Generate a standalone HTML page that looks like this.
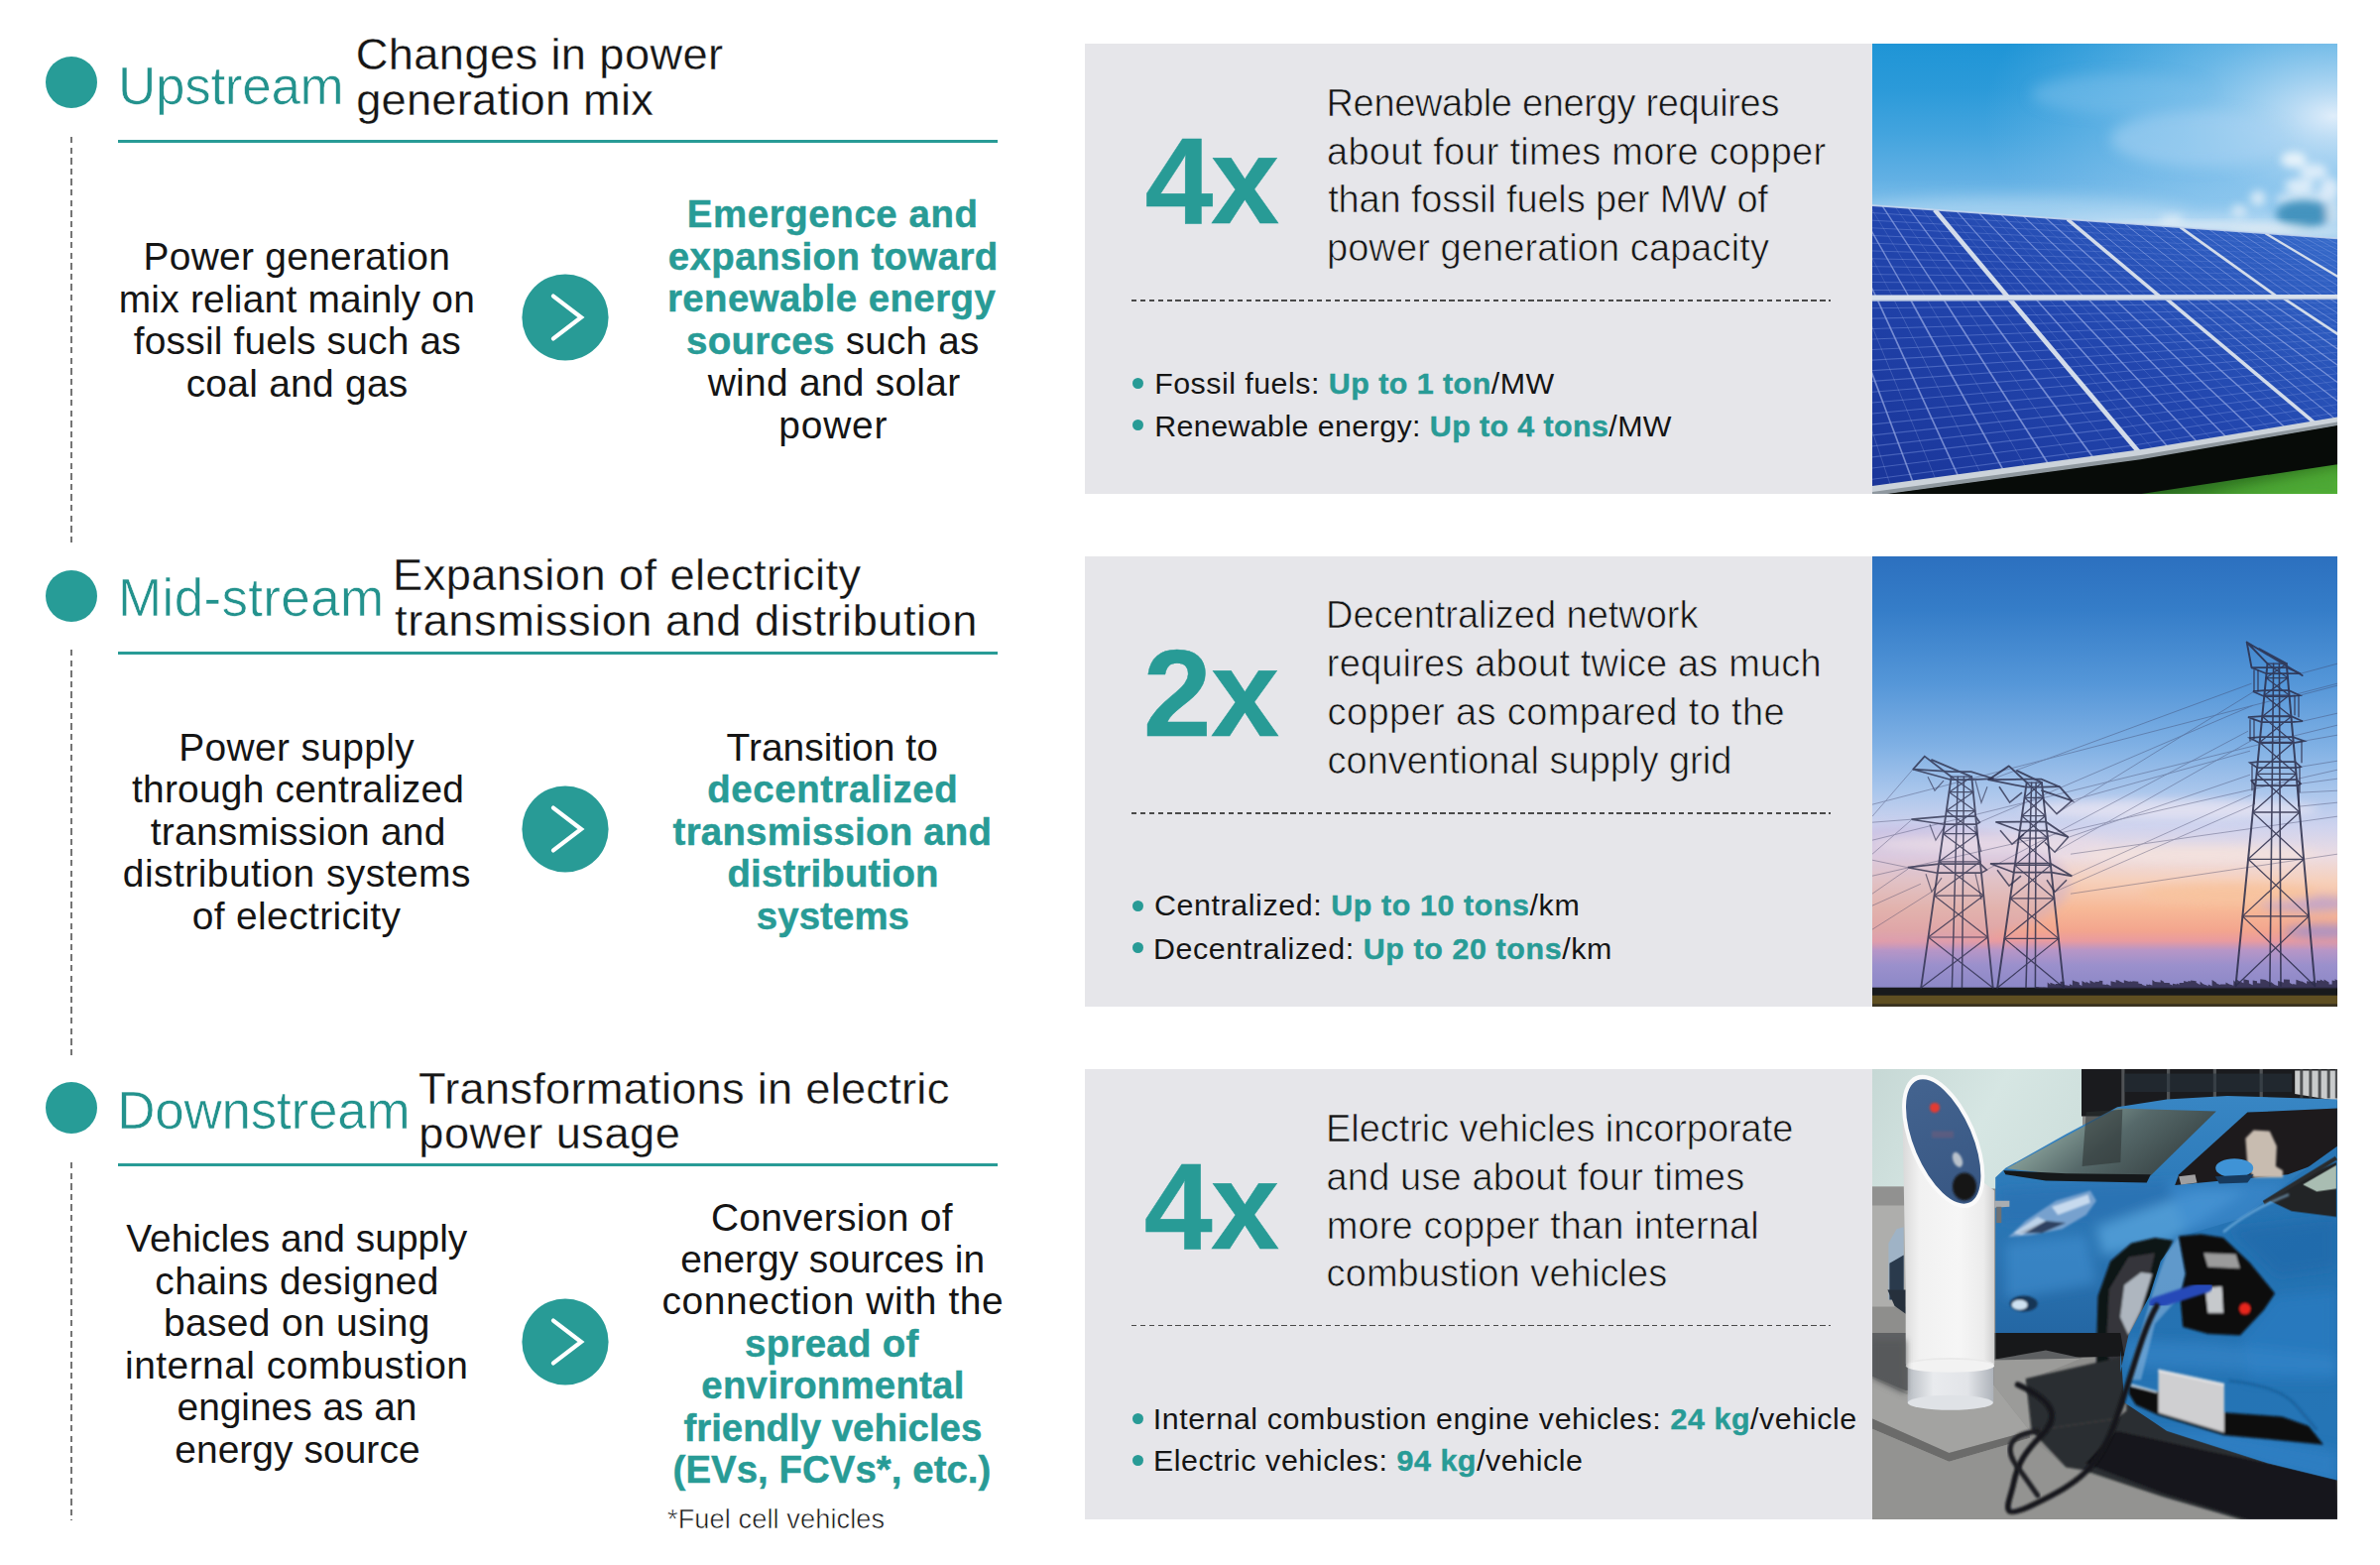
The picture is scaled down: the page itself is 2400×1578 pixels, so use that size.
<!DOCTYPE html>
<html lang="en"><head><meta charset="utf-8"><title>Copper demand across the electricity value chain</title>
<style>
html,body{margin:0;padding:0;background:#fff}
body{width:2400px;height:1578px;position:relative;overflow:hidden;font-family:"Liberation Sans",sans-serif;color:#151515}
.ln{position:absolute;white-space:pre;margin:0}
.ln b{color:#289b96;font-weight:bold;-webkit-text-stroke:0.45px #289b96}
.ln .t{color:#289b96}
.ln .l{color:#141414;-webkit-text-stroke:0.65px #e6e6ea}
.g-h2{-webkit-text-stroke:0.3px #fff}
.g-fn .l{-webkit-text-stroke:0.55px #fff}
.g-h1 .t{color:#23928d;-webkit-text-stroke:0.6px #fff}
.dot{position:absolute;left:46.3px;width:52px;height:52px;border-radius:50%;background:#279c97}
.rule{position:absolute;left:119px;width:887px;height:3px;background:#289b96}
.vdash{position:absolute;left:71.2px;width:1.8px;background:repeating-linear-gradient(to bottom,#757575 0,#757575 6.4px,transparent 6.4px,transparent 10.6px)}
.arrow{position:absolute;left:525.7px}
.panel{position:absolute;left:1094.2px;width:794px;background:#e6e6ea}
.hdash{position:absolute;left:1141px;width:705px;height:1.6px;background:repeating-linear-gradient(to right,#4a4a4a 0,#4a4a4a 5.4px,transparent 5.4px,transparent 8.9px)}
.bdot{position:absolute;left:1142.2px;width:11.2px;height:11.2px;border-radius:50%;background:#289b96}
.photo{position:absolute;left:1888px;width:469.3px;overflow:hidden;background:#5a8fc8}
.photo svg{display:block;width:100%;height:100%}
</style></head>
<body>
<div class="dot" style="top:57.4px"></div>
<div class="rule" style="top:140.5px"></div>
<div class="vdash" style="top:138.1px;height:410.9px"></div>
<svg class="arrow" style="top:276.0px" width="88" height="88" viewBox="0 0 88 88"><circle cx="44" cy="44" r="43.6" fill="#289b96"/><polyline points="32,22.6 60,44 32,65.4" fill="none" stroke="#fff" stroke-width="4.3" stroke-linecap="round" stroke-linejoin="miter"/></svg>
<div class="dot" style="top:574.5px"></div>
<div class="rule" style="top:657.3px"></div>
<div class="vdash" style="top:655.3px;height:411.2px"></div>
<svg class="arrow" style="top:791.7px" width="88" height="88" viewBox="0 0 88 88"><circle cx="44" cy="44" r="43.6" fill="#289b96"/><polyline points="32,22.6 60,44 32,65.4" fill="none" stroke="#fff" stroke-width="4.3" stroke-linecap="round" stroke-linejoin="miter"/></svg>
<div class="dot" style="top:1091.1px"></div>
<div class="rule" style="top:1173.2px"></div>
<div class="vdash" style="top:1171.9px;height:361.6px"></div>
<svg class="arrow" style="top:1308.6px" width="88" height="88" viewBox="0 0 88 88"><circle cx="44" cy="44" r="43.6" fill="#289b96"/><polyline points="32,22.6 60,44 32,65.4" fill="none" stroke="#fff" stroke-width="4.3" stroke-linecap="round" stroke-linejoin="miter"/></svg>
<div class="panel" style="top:44.0px;height:454.2px"></div>
<div class="hdash" style="top:302.3px"></div>
<div class="bdot" style="top:381.0px"></div>
<div class="bdot" style="top:423.2px"></div>
<div class="photo" style="top:44.0px;height:454.2px"><svg width="469.3" height="454.2" viewBox="0 -1 469.3 454.2" preserveAspectRatio="none">
<defs>
<linearGradient id="p1sky" x1="0" y1="0" x2="0" y2="1"><stop offset="0" stop-color="#1f95d6"/><stop offset="0.1" stop-color="#2b9ad9"/><stop offset="0.2" stop-color="#43a4de"/><stop offset="0.3" stop-color="#62b0e4"/><stop offset="0.37" stop-color="#86c2eb"/><stop offset="0.43" stop-color="#a8d3f1"/><stop offset="1" stop-color="#a8d3f1"/></linearGradient>
<radialGradient id="p1sun" cx="0.99" cy="0.28" r="0.75"><stop offset="0" stop-color="#e3effb" stop-opacity="0.98"/><stop offset="0.12" stop-color="#cfe5f8" stop-opacity="0.85"/><stop offset="0.45" stop-color="#9fd0f2" stop-opacity="0.55"/><stop offset="1" stop-color="#8cc6ee" stop-opacity="0"/></radialGradient>
<linearGradient id="p1pan" x1="0" y1="1" x2="1" y2="0"><stop offset="0" stop-color="#1a3599"/><stop offset="0.5" stop-color="#2246ae"/><stop offset="0.85" stop-color="#2f5fc2"/><stop offset="1" stop-color="#3a72cf"/></linearGradient>
<linearGradient id="p1grass" x1="0" y1="0" x2="1" y2="0.6"><stop offset="0" stop-color="#0a1507"/><stop offset="0.4" stop-color="#225f1b"/><stop offset="1" stop-color="#55b336"/></linearGradient>
<filter id="p1b" x="-20%" y="-20%" width="140%" height="140%"><feGaussianBlur stdDeviation="7"/></filter>
<filter id="p1b2" x="-30%" y="-30%" width="160%" height="160%"><feGaussianBlur stdDeviation="4"/></filter>
<filter id="p1b3"><feGaussianBlur stdDeviation="0.6"/></filter>
</defs>
<rect x="0" y="-1" width="470" height="456" fill="url(#p1sky)"/>
<rect x="0" y="-1" width="470" height="261" fill="url(#p1sun)"/>
<g filter="url(#p1b)"><ellipse cx="330" cy="95" rx="90" ry="28" fill="#a9d4f3" opacity="0.55"/><ellipse cx="250" cy="50" rx="90" ry="20" fill="#7cc0ec" opacity="0.5"/><ellipse cx="150" cy="168" rx="170" ry="14" fill="#b5d9f3" opacity="0.55"/><ellipse cx="330" cy="182" rx="150" ry="12" fill="#c9e3f6" opacity="0.6"/></g>
<g filter="url(#p1b2)"><ellipse cx="425" cy="116" rx="13" ry="8" fill="#f0f7fc" opacity="0.9"/><ellipse cx="445" cy="128" rx="14" ry="8" fill="#e8f2fb" opacity="0.85"/><ellipse cx="431" cy="142" rx="15" ry="7" fill="#eaf3fb" opacity="0.85"/><ellipse cx="461" cy="146" rx="10" ry="12" fill="#e6f0fa" opacity="0.85"/><ellipse cx="436" cy="156" rx="30" ry="8" fill="#dcebf7" opacity="0.8"/><ellipse cx="389" cy="155" rx="8" ry="8" fill="#e2eef8" opacity="0.85"/><ellipse cx="370" cy="168" rx="8" ry="7" fill="#dcebf6" opacity="0.8"/><ellipse cx="302" cy="177" rx="12" ry="5" fill="#e0edf7" opacity="0.8"/></g>
<g filter="url(#p1b2)"><ellipse cx="435" cy="171" rx="28" ry="14" fill="#3f8fba" opacity="0.95"/><ellipse cx="464" cy="168" rx="7" ry="14" fill="#d6e6f3" opacity="0.8"/></g>
<g filter="url(#p1b2)"><ellipse cx="330" cy="183" rx="110" ry="3.5" fill="#e4edf3" opacity="0.85"/><ellipse cx="420" cy="189" rx="60" ry="3" fill="#e6eef2" opacity="0.8"/></g>
<polygon points="0,449.4 270.6,412.8 469,379.2 470,454 0,454" fill="#070b08"/>
<polygon points="265,454 470,423 470,454" fill="url(#p1grass)"/>
<g filter="url(#p1b2)"><polygon points="340,454 470,432 470,454" fill="#4aa532" opacity="0.8"/></g>
<polygon points="0.0,162.2 469.0,195.3 469.0,379.2 270.6,412.8 0.0,449.4" fill="url(#p1pan)"/>
<clipPath id="p1clip"><polygon points="0.0,162.2 469.0,195.3 469.0,379.2 270.6,412.8 0.0,449.4"/></clipPath>
<g clip-path="url(#p1clip)" fill="none">
<line x1="-81.8" y1="156.4" x2="-45.4" y2="255.7" stroke="#a9b9ee" stroke-width="0.70" opacity="0.27"/>
<line x1="-68.7" y1="157.4" x2="-28.8" y2="255.7" stroke="#a9b9ee" stroke-width="1.40" opacity="0.60"/>
<line x1="-55.5" y1="158.3" x2="-12.1" y2="255.6" stroke="#a9b9ee" stroke-width="0.70" opacity="0.27"/>
<line x1="-42.4" y1="159.2" x2="4.5" y2="255.6" stroke="#a9b9ee" stroke-width="1.40" opacity="0.60"/>
<line x1="-29.2" y1="160.1" x2="21.1" y2="255.6" stroke="#a9b9ee" stroke-width="0.70" opacity="0.27"/>
<line x1="-16.0" y1="161.1" x2="37.7" y2="255.5" stroke="#a9b9ee" stroke-width="1.40" opacity="0.60"/>
<line x1="-2.9" y1="162.0" x2="54.3" y2="255.5" stroke="#a9b9ee" stroke-width="0.70" opacity="0.27"/>
<line x1="10.3" y1="162.9" x2="70.9" y2="255.4" stroke="#a9b9ee" stroke-width="1.40" opacity="0.60"/>
<line x1="23.4" y1="163.9" x2="87.6" y2="255.4" stroke="#a9b9ee" stroke-width="0.70" opacity="0.27"/>
<line x1="36.6" y1="164.8" x2="104.2" y2="255.4" stroke="#a9b9ee" stroke-width="1.40" opacity="0.60"/>
<line x1="49.7" y1="165.7" x2="120.8" y2="255.3" stroke="#a9b9ee" stroke-width="0.70" opacity="0.27"/>
<line x1="-92.2" y1="163.8" x2="69.1" y2="174.0" stroke="#8fa6ea" stroke-width="0.90" opacity="0.38"/>
<line x1="-89.5" y1="172.2" x2="75.3" y2="181.4" stroke="#8fa6ea" stroke-width="0.90" opacity="0.38"/>
<line x1="-86.8" y1="180.6" x2="81.5" y2="188.8" stroke="#8fa6ea" stroke-width="0.90" opacity="0.38"/>
<line x1="-84.0" y1="188.9" x2="87.7" y2="196.2" stroke="#8fa6ea" stroke-width="0.90" opacity="0.38"/>
<line x1="-81.2" y1="197.3" x2="93.9" y2="203.6" stroke="#8fa6ea" stroke-width="0.90" opacity="0.38"/>
<line x1="-78.5" y1="205.6" x2="100.2" y2="211.0" stroke="#8fa6ea" stroke-width="0.90" opacity="0.38"/>
<line x1="-75.8" y1="214.0" x2="106.4" y2="218.3" stroke="#8fa6ea" stroke-width="0.90" opacity="0.38"/>
<line x1="-73.0" y1="222.3" x2="112.6" y2="225.7" stroke="#8fa6ea" stroke-width="0.90" opacity="0.38"/>
<line x1="-70.2" y1="230.7" x2="118.8" y2="233.1" stroke="#8fa6ea" stroke-width="0.90" opacity="0.38"/>
<line x1="-67.5" y1="239.0" x2="125.0" y2="240.5" stroke="#8fa6ea" stroke-width="0.90" opacity="0.38"/>
<line x1="-64.8" y1="247.4" x2="131.2" y2="247.9" stroke="#8fa6ea" stroke-width="0.90" opacity="0.38"/>
<line x1="74.1" y1="167.4" x2="150.2" y2="255.3" stroke="#a9b9ee" stroke-width="0.58" opacity="0.27"/>
<line x1="85.2" y1="168.2" x2="163.0" y2="255.2" stroke="#a9b9ee" stroke-width="1.16" opacity="0.60"/>
<line x1="96.4" y1="169.0" x2="175.8" y2="255.2" stroke="#a9b9ee" stroke-width="0.58" opacity="0.27"/>
<line x1="107.6" y1="169.8" x2="188.6" y2="255.2" stroke="#a9b9ee" stroke-width="1.16" opacity="0.60"/>
<line x1="118.7" y1="170.6" x2="201.4" y2="255.1" stroke="#a9b9ee" stroke-width="0.58" opacity="0.27"/>
<line x1="129.9" y1="171.4" x2="214.2" y2="255.1" stroke="#a9b9ee" stroke-width="1.16" opacity="0.60"/>
<line x1="141.1" y1="172.2" x2="227.0" y2="255.1" stroke="#a9b9ee" stroke-width="0.58" opacity="0.27"/>
<line x1="152.2" y1="172.9" x2="239.8" y2="255.0" stroke="#a9b9ee" stroke-width="1.16" opacity="0.60"/>
<line x1="163.4" y1="173.7" x2="252.6" y2="255.0" stroke="#a9b9ee" stroke-width="0.58" opacity="0.27"/>
<line x1="174.6" y1="174.5" x2="265.4" y2="255.0" stroke="#a9b9ee" stroke-width="1.16" opacity="0.60"/>
<line x1="185.7" y1="175.3" x2="278.2" y2="255.0" stroke="#a9b9ee" stroke-width="0.58" opacity="0.27"/>
<line x1="69.1" y1="174.0" x2="204.7" y2="182.7" stroke="#8fa6ea" stroke-width="0.75" opacity="0.38"/>
<line x1="75.3" y1="181.4" x2="212.6" y2="189.2" stroke="#8fa6ea" stroke-width="0.75" opacity="0.38"/>
<line x1="81.5" y1="188.8" x2="220.4" y2="195.8" stroke="#8fa6ea" stroke-width="0.75" opacity="0.38"/>
<line x1="87.7" y1="196.2" x2="228.3" y2="202.4" stroke="#8fa6ea" stroke-width="0.75" opacity="0.38"/>
<line x1="93.9" y1="203.6" x2="236.1" y2="208.9" stroke="#8fa6ea" stroke-width="0.75" opacity="0.38"/>
<line x1="100.2" y1="211.0" x2="243.9" y2="215.5" stroke="#8fa6ea" stroke-width="0.75" opacity="0.38"/>
<line x1="106.4" y1="218.3" x2="251.8" y2="222.1" stroke="#8fa6ea" stroke-width="0.75" opacity="0.38"/>
<line x1="112.6" y1="225.7" x2="259.6" y2="228.7" stroke="#8fa6ea" stroke-width="0.75" opacity="0.38"/>
<line x1="118.8" y1="233.1" x2="267.5" y2="235.2" stroke="#8fa6ea" stroke-width="0.75" opacity="0.38"/>
<line x1="125.0" y1="240.5" x2="275.3" y2="241.8" stroke="#8fa6ea" stroke-width="0.75" opacity="0.38"/>
<line x1="131.2" y1="247.9" x2="283.2" y2="248.4" stroke="#8fa6ea" stroke-width="0.75" opacity="0.38"/>
<line x1="206.4" y1="176.8" x2="300.8" y2="254.9" stroke="#a9b9ee" stroke-width="0.46" opacity="0.27"/>
<line x1="215.9" y1="177.4" x2="310.7" y2="254.9" stroke="#a9b9ee" stroke-width="0.92" opacity="0.60"/>
<line x1="225.3" y1="178.1" x2="320.5" y2="254.9" stroke="#a9b9ee" stroke-width="0.46" opacity="0.27"/>
<line x1="234.8" y1="178.8" x2="330.3" y2="254.8" stroke="#a9b9ee" stroke-width="0.92" opacity="0.60"/>
<line x1="244.3" y1="179.4" x2="340.2" y2="254.8" stroke="#a9b9ee" stroke-width="0.46" opacity="0.27"/>
<line x1="253.8" y1="180.1" x2="350.0" y2="254.8" stroke="#a9b9ee" stroke-width="0.92" opacity="0.60"/>
<line x1="263.2" y1="180.8" x2="359.8" y2="254.8" stroke="#a9b9ee" stroke-width="0.46" opacity="0.27"/>
<line x1="272.7" y1="181.5" x2="369.7" y2="254.7" stroke="#a9b9ee" stroke-width="0.92" opacity="0.60"/>
<line x1="282.2" y1="182.1" x2="379.5" y2="254.7" stroke="#a9b9ee" stroke-width="0.46" opacity="0.27"/>
<line x1="291.7" y1="182.8" x2="389.3" y2="254.7" stroke="#a9b9ee" stroke-width="0.92" opacity="0.60"/>
<line x1="301.1" y1="183.5" x2="399.2" y2="254.7" stroke="#a9b9ee" stroke-width="0.46" opacity="0.27"/>
<line x1="204.7" y1="182.7" x2="318.8" y2="190.0" stroke="#8fa6ea" stroke-width="0.59" opacity="0.38"/>
<line x1="212.6" y1="189.2" x2="327.0" y2="195.9" stroke="#8fa6ea" stroke-width="0.59" opacity="0.38"/>
<line x1="220.4" y1="195.8" x2="335.2" y2="201.8" stroke="#8fa6ea" stroke-width="0.59" opacity="0.38"/>
<line x1="228.3" y1="202.4" x2="343.4" y2="207.6" stroke="#8fa6ea" stroke-width="0.59" opacity="0.38"/>
<line x1="236.1" y1="208.9" x2="351.6" y2="213.5" stroke="#8fa6ea" stroke-width="0.59" opacity="0.38"/>
<line x1="243.9" y1="215.5" x2="359.8" y2="219.4" stroke="#8fa6ea" stroke-width="0.59" opacity="0.38"/>
<line x1="251.8" y1="222.1" x2="368.0" y2="225.3" stroke="#8fa6ea" stroke-width="0.59" opacity="0.38"/>
<line x1="259.6" y1="228.7" x2="376.2" y2="231.1" stroke="#8fa6ea" stroke-width="0.59" opacity="0.38"/>
<line x1="267.5" y1="235.2" x2="384.4" y2="237.0" stroke="#8fa6ea" stroke-width="0.59" opacity="0.38"/>
<line x1="275.3" y1="241.8" x2="392.6" y2="242.9" stroke="#8fa6ea" stroke-width="0.59" opacity="0.38"/>
<line x1="283.2" y1="248.4" x2="400.8" y2="248.8" stroke="#8fa6ea" stroke-width="0.59" opacity="0.38"/>
<line x1="317.8" y1="184.6" x2="416.9" y2="254.6" stroke="#a9b9ee" stroke-width="0.34" opacity="0.27"/>
<line x1="324.9" y1="185.1" x2="424.8" y2="254.6" stroke="#a9b9ee" stroke-width="0.69" opacity="0.60"/>
<line x1="332.1" y1="185.6" x2="432.7" y2="254.6" stroke="#a9b9ee" stroke-width="0.34" opacity="0.27"/>
<line x1="339.2" y1="186.1" x2="440.6" y2="254.6" stroke="#a9b9ee" stroke-width="0.69" opacity="0.60"/>
<line x1="346.4" y1="186.7" x2="448.5" y2="254.6" stroke="#a9b9ee" stroke-width="0.34" opacity="0.27"/>
<line x1="353.5" y1="187.2" x2="456.4" y2="254.6" stroke="#a9b9ee" stroke-width="0.69" opacity="0.60"/>
<line x1="360.6" y1="187.7" x2="464.2" y2="254.5" stroke="#a9b9ee" stroke-width="0.34" opacity="0.27"/>
<line x1="367.8" y1="188.2" x2="472.1" y2="254.5" stroke="#a9b9ee" stroke-width="0.69" opacity="0.60"/>
<line x1="374.9" y1="188.7" x2="480.0" y2="254.5" stroke="#a9b9ee" stroke-width="0.34" opacity="0.27"/>
<line x1="382.1" y1="189.2" x2="487.9" y2="254.5" stroke="#a9b9ee" stroke-width="0.69" opacity="0.60"/>
<line x1="389.2" y1="189.7" x2="495.8" y2="254.5" stroke="#a9b9ee" stroke-width="0.34" opacity="0.27"/>
<line x1="318.8" y1="190.0" x2="405.3" y2="195.5" stroke="#8fa6ea" stroke-width="0.44" opacity="0.38"/>
<line x1="327.0" y1="195.9" x2="414.3" y2="200.9" stroke="#8fa6ea" stroke-width="0.44" opacity="0.38"/>
<line x1="335.2" y1="201.8" x2="423.2" y2="206.2" stroke="#8fa6ea" stroke-width="0.44" opacity="0.38"/>
<line x1="343.4" y1="207.6" x2="432.2" y2="211.6" stroke="#8fa6ea" stroke-width="0.44" opacity="0.38"/>
<line x1="351.6" y1="213.5" x2="441.1" y2="217.0" stroke="#8fa6ea" stroke-width="0.44" opacity="0.38"/>
<line x1="359.8" y1="219.4" x2="450.0" y2="222.3" stroke="#8fa6ea" stroke-width="0.44" opacity="0.38"/>
<line x1="368.0" y1="225.3" x2="459.0" y2="227.7" stroke="#8fa6ea" stroke-width="0.44" opacity="0.38"/>
<line x1="376.2" y1="231.1" x2="467.9" y2="233.0" stroke="#8fa6ea" stroke-width="0.44" opacity="0.38"/>
<line x1="384.4" y1="237.0" x2="476.9" y2="238.4" stroke="#8fa6ea" stroke-width="0.44" opacity="0.38"/>
<line x1="392.6" y1="242.9" x2="485.8" y2="243.7" stroke="#8fa6ea" stroke-width="0.44" opacity="0.38"/>
<line x1="400.8" y1="248.8" x2="494.8" y2="249.1" stroke="#8fa6ea" stroke-width="0.44" opacity="0.38"/>
<line x1="402.4" y1="190.6" x2="510.5" y2="254.4" stroke="#a9b9ee" stroke-width="0.24" opacity="0.27"/>
<line x1="408.3" y1="191.0" x2="517.2" y2="254.4" stroke="#a9b9ee" stroke-width="0.49" opacity="0.60"/>
<line x1="414.3" y1="191.4" x2="524.0" y2="254.4" stroke="#a9b9ee" stroke-width="0.24" opacity="0.27"/>
<line x1="420.3" y1="191.9" x2="530.8" y2="254.4" stroke="#a9b9ee" stroke-width="0.49" opacity="0.60"/>
<line x1="426.2" y1="192.3" x2="537.6" y2="254.4" stroke="#a9b9ee" stroke-width="0.24" opacity="0.27"/>
<line x1="432.2" y1="192.7" x2="544.4" y2="254.3" stroke="#a9b9ee" stroke-width="0.49" opacity="0.60"/>
<line x1="438.2" y1="193.1" x2="551.1" y2="254.3" stroke="#a9b9ee" stroke-width="0.24" opacity="0.27"/>
<line x1="444.1" y1="193.6" x2="557.9" y2="254.3" stroke="#a9b9ee" stroke-width="0.49" opacity="0.60"/>
<line x1="450.1" y1="194.0" x2="564.7" y2="254.3" stroke="#a9b9ee" stroke-width="0.24" opacity="0.27"/>
<line x1="456.1" y1="194.4" x2="571.5" y2="254.3" stroke="#a9b9ee" stroke-width="0.49" opacity="0.60"/>
<line x1="462.0" y1="194.8" x2="578.2" y2="254.3" stroke="#a9b9ee" stroke-width="0.24" opacity="0.27"/>
<line x1="405.3" y1="195.5" x2="477.8" y2="200.2" stroke="#8fa6ea" stroke-width="0.32" opacity="0.38"/>
<line x1="414.3" y1="200.9" x2="487.5" y2="205.1" stroke="#8fa6ea" stroke-width="0.32" opacity="0.38"/>
<line x1="423.2" y1="206.2" x2="497.2" y2="210.0" stroke="#8fa6ea" stroke-width="0.32" opacity="0.38"/>
<line x1="432.2" y1="211.6" x2="507.0" y2="214.9" stroke="#8fa6ea" stroke-width="0.32" opacity="0.38"/>
<line x1="441.1" y1="217.0" x2="516.8" y2="219.8" stroke="#8fa6ea" stroke-width="0.32" opacity="0.38"/>
<line x1="450.0" y1="222.3" x2="526.5" y2="224.7" stroke="#8fa6ea" stroke-width="0.32" opacity="0.38"/>
<line x1="459.0" y1="227.7" x2="536.2" y2="229.7" stroke="#8fa6ea" stroke-width="0.32" opacity="0.38"/>
<line x1="467.9" y1="233.0" x2="546.0" y2="234.6" stroke="#8fa6ea" stroke-width="0.32" opacity="0.38"/>
<line x1="476.9" y1="238.4" x2="555.8" y2="239.5" stroke="#8fa6ea" stroke-width="0.32" opacity="0.38"/>
<line x1="485.8" y1="243.7" x2="565.5" y2="244.4" stroke="#8fa6ea" stroke-width="0.32" opacity="0.38"/>
<line x1="494.8" y1="249.1" x2="575.2" y2="249.3" stroke="#8fa6ea" stroke-width="0.32" opacity="0.38"/>
<line x1="-45.4" y1="255.7" x2="19.2" y2="446.8" stroke="#a9b9ee" stroke-width="0.85" opacity="0.28"/>
<line x1="-28.8" y1="255.7" x2="42.0" y2="443.7" stroke="#a9b9ee" stroke-width="1.70" opacity="0.62"/>
<line x1="-12.1" y1="255.6" x2="64.9" y2="440.6" stroke="#a9b9ee" stroke-width="0.85" opacity="0.28"/>
<line x1="4.5" y1="255.6" x2="87.7" y2="437.5" stroke="#a9b9ee" stroke-width="1.70" opacity="0.62"/>
<line x1="21.1" y1="255.6" x2="110.5" y2="434.4" stroke="#a9b9ee" stroke-width="0.85" opacity="0.28"/>
<line x1="37.7" y1="255.5" x2="133.4" y2="431.4" stroke="#a9b9ee" stroke-width="1.70" opacity="0.62"/>
<line x1="54.3" y1="255.5" x2="156.2" y2="428.3" stroke="#a9b9ee" stroke-width="0.85" opacity="0.28"/>
<line x1="70.9" y1="255.4" x2="179.1" y2="425.2" stroke="#a9b9ee" stroke-width="1.70" opacity="0.62"/>
<line x1="87.6" y1="255.4" x2="201.9" y2="422.1" stroke="#a9b9ee" stroke-width="0.85" opacity="0.28"/>
<line x1="104.2" y1="255.4" x2="224.7" y2="419.0" stroke="#a9b9ee" stroke-width="1.70" opacity="0.62"/>
<line x1="120.8" y1="255.3" x2="247.6" y2="415.9" stroke="#a9b9ee" stroke-width="0.85" opacity="0.28"/>
<line x1="-58.8" y1="266.5" x2="144.8" y2="264.0" stroke="#8fa6ea" stroke-width="1.10" opacity="0.38"/>
<line x1="-55.5" y1="277.3" x2="152.2" y2="272.8" stroke="#8fa6ea" stroke-width="1.10" opacity="0.38"/>
<line x1="-52.3" y1="288.1" x2="159.6" y2="281.5" stroke="#8fa6ea" stroke-width="1.10" opacity="0.38"/>
<line x1="-49.0" y1="298.9" x2="167.0" y2="290.3" stroke="#8fa6ea" stroke-width="1.10" opacity="0.38"/>
<line x1="-45.8" y1="309.7" x2="174.4" y2="299.0" stroke="#8fa6ea" stroke-width="1.10" opacity="0.38"/>
<line x1="-42.6" y1="320.5" x2="181.7" y2="307.8" stroke="#8fa6ea" stroke-width="1.10" opacity="0.38"/>
<line x1="-39.3" y1="331.2" x2="189.1" y2="316.5" stroke="#8fa6ea" stroke-width="1.10" opacity="0.38"/>
<line x1="-36.1" y1="342.0" x2="196.5" y2="325.3" stroke="#8fa6ea" stroke-width="1.10" opacity="0.38"/>
<line x1="-32.8" y1="352.8" x2="203.9" y2="334.1" stroke="#8fa6ea" stroke-width="1.10" opacity="0.38"/>
<line x1="-29.6" y1="363.6" x2="211.3" y2="342.8" stroke="#8fa6ea" stroke-width="1.10" opacity="0.38"/>
<line x1="-26.3" y1="374.4" x2="218.7" y2="351.6" stroke="#8fa6ea" stroke-width="1.10" opacity="0.38"/>
<line x1="-23.1" y1="385.2" x2="226.1" y2="360.3" stroke="#8fa6ea" stroke-width="1.10" opacity="0.38"/>
<line x1="-19.9" y1="396.0" x2="233.5" y2="369.1" stroke="#8fa6ea" stroke-width="1.10" opacity="0.38"/>
<line x1="-16.6" y1="406.7" x2="240.9" y2="377.8" stroke="#8fa6ea" stroke-width="1.10" opacity="0.38"/>
<line x1="-13.4" y1="417.5" x2="248.3" y2="386.6" stroke="#8fa6ea" stroke-width="1.10" opacity="0.38"/>
<line x1="-10.1" y1="428.3" x2="255.6" y2="395.3" stroke="#8fa6ea" stroke-width="1.10" opacity="0.38"/>
<line x1="-6.9" y1="439.1" x2="263.0" y2="404.1" stroke="#8fa6ea" stroke-width="1.10" opacity="0.38"/>
<line x1="150.5" y1="255.3" x2="285.2" y2="410.3" stroke="#a9b9ee" stroke-width="0.70" opacity="0.28"/>
<line x1="163.7" y1="255.2" x2="300.0" y2="407.8" stroke="#a9b9ee" stroke-width="1.39" opacity="0.62"/>
<line x1="176.8" y1="255.2" x2="314.8" y2="405.3" stroke="#a9b9ee" stroke-width="0.70" opacity="0.28"/>
<line x1="189.9" y1="255.2" x2="329.6" y2="402.8" stroke="#a9b9ee" stroke-width="1.39" opacity="0.62"/>
<line x1="203.1" y1="255.1" x2="344.3" y2="400.3" stroke="#a9b9ee" stroke-width="0.70" opacity="0.28"/>
<line x1="216.2" y1="255.1" x2="359.1" y2="397.8" stroke="#a9b9ee" stroke-width="1.39" opacity="0.62"/>
<line x1="229.3" y1="255.1" x2="373.9" y2="395.3" stroke="#a9b9ee" stroke-width="0.70" opacity="0.28"/>
<line x1="242.5" y1="255.0" x2="388.7" y2="392.8" stroke="#a9b9ee" stroke-width="1.39" opacity="0.62"/>
<line x1="255.6" y1="255.0" x2="403.5" y2="390.3" stroke="#a9b9ee" stroke-width="0.70" opacity="0.28"/>
<line x1="268.7" y1="255.0" x2="418.3" y2="387.8" stroke="#a9b9ee" stroke-width="1.39" opacity="0.62"/>
<line x1="281.9" y1="255.0" x2="433.1" y2="385.3" stroke="#a9b9ee" stroke-width="0.70" opacity="0.28"/>
<line x1="144.8" y1="264.0" x2="303.5" y2="262.0" stroke="#8fa6ea" stroke-width="0.90" opacity="0.38"/>
<line x1="152.2" y1="272.8" x2="312.0" y2="269.1" stroke="#8fa6ea" stroke-width="0.90" opacity="0.38"/>
<line x1="159.6" y1="281.5" x2="320.5" y2="276.2" stroke="#8fa6ea" stroke-width="0.90" opacity="0.38"/>
<line x1="167.0" y1="290.3" x2="329.0" y2="283.3" stroke="#8fa6ea" stroke-width="0.90" opacity="0.38"/>
<line x1="174.4" y1="299.0" x2="337.5" y2="290.4" stroke="#8fa6ea" stroke-width="0.90" opacity="0.38"/>
<line x1="181.7" y1="307.8" x2="345.9" y2="297.5" stroke="#8fa6ea" stroke-width="0.90" opacity="0.38"/>
<line x1="189.1" y1="316.5" x2="354.4" y2="304.6" stroke="#8fa6ea" stroke-width="0.90" opacity="0.38"/>
<line x1="196.5" y1="325.3" x2="362.9" y2="311.7" stroke="#8fa6ea" stroke-width="0.90" opacity="0.38"/>
<line x1="203.9" y1="334.1" x2="371.4" y2="318.8" stroke="#8fa6ea" stroke-width="0.90" opacity="0.38"/>
<line x1="211.3" y1="342.8" x2="379.9" y2="325.9" stroke="#8fa6ea" stroke-width="0.90" opacity="0.38"/>
<line x1="218.7" y1="351.6" x2="388.4" y2="333.0" stroke="#8fa6ea" stroke-width="0.90" opacity="0.38"/>
<line x1="226.1" y1="360.3" x2="396.9" y2="340.2" stroke="#8fa6ea" stroke-width="0.90" opacity="0.38"/>
<line x1="233.5" y1="369.1" x2="405.4" y2="347.3" stroke="#8fa6ea" stroke-width="0.90" opacity="0.38"/>
<line x1="240.9" y1="377.8" x2="413.9" y2="354.4" stroke="#8fa6ea" stroke-width="0.90" opacity="0.38"/>
<line x1="248.3" y1="386.6" x2="422.4" y2="361.5" stroke="#8fa6ea" stroke-width="0.90" opacity="0.38"/>
<line x1="255.6" y1="395.3" x2="430.9" y2="368.6" stroke="#8fa6ea" stroke-width="0.90" opacity="0.38"/>
<line x1="263.0" y1="404.1" x2="439.4" y2="375.7" stroke="#8fa6ea" stroke-width="0.90" opacity="0.38"/>
<line x1="304.8" y1="254.9" x2="458.4" y2="381.0" stroke="#a9b9ee" stroke-width="0.54" opacity="0.28"/>
<line x1="314.7" y1="254.9" x2="469.0" y2="379.2" stroke="#a9b9ee" stroke-width="1.09" opacity="0.62"/>
<line x1="324.5" y1="254.9" x2="479.6" y2="377.4" stroke="#a9b9ee" stroke-width="0.54" opacity="0.28"/>
<line x1="334.3" y1="254.8" x2="490.1" y2="375.6" stroke="#a9b9ee" stroke-width="1.09" opacity="0.62"/>
<line x1="344.2" y1="254.8" x2="500.7" y2="373.8" stroke="#a9b9ee" stroke-width="0.54" opacity="0.28"/>
<line x1="354.0" y1="254.8" x2="511.3" y2="372.0" stroke="#a9b9ee" stroke-width="1.09" opacity="0.62"/>
<line x1="363.8" y1="254.8" x2="521.9" y2="370.3" stroke="#a9b9ee" stroke-width="0.54" opacity="0.28"/>
<line x1="373.7" y1="254.7" x2="532.4" y2="368.5" stroke="#a9b9ee" stroke-width="1.09" opacity="0.62"/>
<line x1="383.5" y1="254.7" x2="543.0" y2="366.7" stroke="#a9b9ee" stroke-width="0.54" opacity="0.28"/>
<line x1="393.3" y1="254.7" x2="553.6" y2="364.9" stroke="#a9b9ee" stroke-width="1.09" opacity="0.62"/>
<line x1="403.2" y1="254.7" x2="564.2" y2="363.1" stroke="#a9b9ee" stroke-width="0.54" opacity="0.28"/>
<line x1="303.5" y1="262.0" x2="422.0" y2="260.6" stroke="#8fa6ea" stroke-width="0.70" opacity="0.38"/>
<line x1="312.0" y1="269.1" x2="431.0" y2="266.5" stroke="#8fa6ea" stroke-width="0.70" opacity="0.38"/>
<line x1="320.5" y1="276.2" x2="440.0" y2="272.4" stroke="#8fa6ea" stroke-width="0.70" opacity="0.38"/>
<line x1="329.0" y1="283.3" x2="448.9" y2="278.4" stroke="#8fa6ea" stroke-width="0.70" opacity="0.38"/>
<line x1="337.5" y1="290.4" x2="457.9" y2="284.3" stroke="#8fa6ea" stroke-width="0.70" opacity="0.38"/>
<line x1="345.9" y1="297.5" x2="466.9" y2="290.2" stroke="#8fa6ea" stroke-width="0.70" opacity="0.38"/>
<line x1="354.4" y1="304.6" x2="475.9" y2="296.1" stroke="#8fa6ea" stroke-width="0.70" opacity="0.38"/>
<line x1="362.9" y1="311.7" x2="484.9" y2="302.1" stroke="#8fa6ea" stroke-width="0.70" opacity="0.38"/>
<line x1="371.4" y1="318.8" x2="493.9" y2="308.0" stroke="#8fa6ea" stroke-width="0.70" opacity="0.38"/>
<line x1="379.9" y1="325.9" x2="502.9" y2="313.9" stroke="#8fa6ea" stroke-width="0.70" opacity="0.38"/>
<line x1="388.4" y1="333.0" x2="511.8" y2="319.8" stroke="#8fa6ea" stroke-width="0.70" opacity="0.38"/>
<line x1="396.9" y1="340.2" x2="520.8" y2="325.8" stroke="#8fa6ea" stroke-width="0.70" opacity="0.38"/>
<line x1="405.4" y1="347.3" x2="529.8" y2="331.7" stroke="#8fa6ea" stroke-width="0.70" opacity="0.38"/>
<line x1="413.9" y1="354.4" x2="538.8" y2="337.6" stroke="#8fa6ea" stroke-width="0.70" opacity="0.38"/>
<line x1="422.4" y1="361.5" x2="547.8" y2="343.5" stroke="#8fa6ea" stroke-width="0.70" opacity="0.38"/>
<line x1="430.9" y1="368.6" x2="556.8" y2="349.5" stroke="#8fa6ea" stroke-width="0.70" opacity="0.38"/>
<line x1="439.4" y1="375.7" x2="565.7" y2="355.4" stroke="#8fa6ea" stroke-width="0.70" opacity="0.38"/>
<line x1="420.6" y1="254.6" x2="582.7" y2="360.0" stroke="#a9b9ee" stroke-width="0.39" opacity="0.28"/>
<line x1="428.1" y1="254.6" x2="590.6" y2="358.6" stroke="#a9b9ee" stroke-width="0.78" opacity="0.62"/>
<line x1="435.7" y1="254.6" x2="598.5" y2="357.3" stroke="#a9b9ee" stroke-width="0.39" opacity="0.28"/>
<line x1="443.2" y1="254.6" x2="606.5" y2="356.0" stroke="#a9b9ee" stroke-width="0.78" opacity="0.62"/>
<line x1="450.8" y1="254.6" x2="614.4" y2="354.6" stroke="#a9b9ee" stroke-width="0.39" opacity="0.28"/>
<line x1="458.4" y1="254.5" x2="622.3" y2="353.3" stroke="#a9b9ee" stroke-width="0.78" opacity="0.62"/>
<line x1="465.9" y1="254.5" x2="630.2" y2="351.9" stroke="#a9b9ee" stroke-width="0.39" opacity="0.28"/>
<line x1="473.5" y1="254.5" x2="638.2" y2="350.6" stroke="#a9b9ee" stroke-width="0.78" opacity="0.62"/>
<line x1="481.0" y1="254.5" x2="646.1" y2="349.3" stroke="#a9b9ee" stroke-width="0.39" opacity="0.28"/>
<line x1="488.6" y1="254.5" x2="654.0" y2="347.9" stroke="#a9b9ee" stroke-width="0.78" opacity="0.62"/>
<line x1="496.1" y1="254.5" x2="662.0" y2="346.6" stroke="#a9b9ee" stroke-width="0.39" opacity="0.28"/>
<line x1="422.0" y1="260.6" x2="512.9" y2="259.5" stroke="#8fa6ea" stroke-width="0.51" opacity="0.38"/>
<line x1="431.0" y1="266.5" x2="522.2" y2="264.5" stroke="#8fa6ea" stroke-width="0.51" opacity="0.38"/>
<line x1="440.0" y1="272.4" x2="531.4" y2="269.6" stroke="#8fa6ea" stroke-width="0.51" opacity="0.38"/>
<line x1="448.9" y1="278.4" x2="540.6" y2="274.6" stroke="#8fa6ea" stroke-width="0.51" opacity="0.38"/>
<line x1="457.9" y1="284.3" x2="549.9" y2="279.7" stroke="#8fa6ea" stroke-width="0.51" opacity="0.38"/>
<line x1="466.9" y1="290.2" x2="559.1" y2="284.7" stroke="#8fa6ea" stroke-width="0.51" opacity="0.38"/>
<line x1="475.9" y1="296.1" x2="568.3" y2="289.7" stroke="#8fa6ea" stroke-width="0.51" opacity="0.38"/>
<line x1="484.9" y1="302.1" x2="577.6" y2="294.8" stroke="#8fa6ea" stroke-width="0.51" opacity="0.38"/>
<line x1="493.9" y1="308.0" x2="586.8" y2="299.8" stroke="#8fa6ea" stroke-width="0.51" opacity="0.38"/>
<line x1="502.9" y1="313.9" x2="596.0" y2="304.9" stroke="#8fa6ea" stroke-width="0.51" opacity="0.38"/>
<line x1="511.8" y1="319.8" x2="605.3" y2="309.9" stroke="#8fa6ea" stroke-width="0.51" opacity="0.38"/>
<line x1="520.8" y1="325.8" x2="614.5" y2="315.0" stroke="#8fa6ea" stroke-width="0.51" opacity="0.38"/>
<line x1="529.8" y1="331.7" x2="623.7" y2="320.0" stroke="#8fa6ea" stroke-width="0.51" opacity="0.38"/>
<line x1="538.8" y1="337.6" x2="633.0" y2="325.1" stroke="#8fa6ea" stroke-width="0.51" opacity="0.38"/>
<line x1="547.8" y1="343.5" x2="642.2" y2="330.1" stroke="#8fa6ea" stroke-width="0.51" opacity="0.38"/>
<line x1="556.8" y1="349.5" x2="651.4" y2="335.1" stroke="#8fa6ea" stroke-width="0.51" opacity="0.38"/>
<line x1="565.7" y1="355.4" x2="660.7" y2="340.2" stroke="#8fa6ea" stroke-width="0.51" opacity="0.38"/>
</g>
<g clip-path="url(#p1clip)" stroke-linecap="butt">
<line x1="62.9" y1="166.6" x2="137.4" y2="255.3" stroke="#d3dcea" stroke-width="4.6"/>
<line x1="196.9" y1="176.1" x2="291.0" y2="254.9" stroke="#d3dcea" stroke-width="3.6"/>
<line x1="310.6" y1="184.1" x2="409.0" y2="254.7" stroke="#d3dcea" stroke-width="2.8"/>
<line x1="396.4" y1="190.2" x2="503.7" y2="254.4" stroke="#d3dcea" stroke-width="2.2"/>
<line x1="137.4" y1="255.3" x2="270.4" y2="412.8" stroke="#d3dcea" stroke-width="4.8"/>
<line x1="295.0" y1="254.9" x2="447.8" y2="382.8" stroke="#d3dcea" stroke-width="3.6"/>
<line x1="413.0" y1="254.7" x2="574.7" y2="361.3" stroke="#d3dcea" stroke-width="2.8"/>
</g>
<polygon points="0,252.6 469,252 469,256.8 0,258.6" fill="#d9e1ec"/>
<polygon points="0,257.4 469,255.8 469,257.2 0,259" fill="#9fb0d6" opacity="0.7"/>
<polyline points="0,162.2 469,195.3" stroke="#c4d6ee" stroke-width="1.8" fill="none" opacity="0.9"/>
<polygon points="0,444.9 270.6,408.3 469,375.5 469,383.5 270.6,417.6 0,454.4" fill="#ccd3da"/>
<polygon points="0,450.9 270.6,414 469,380.6 469,384 270.6,418.2 0,454.9" fill="#8f989f"/>
</svg></div>
<div class="panel" style="top:560.8px;height:454.2px"></div>
<div class="hdash" style="top:819.0px"></div>
<div class="bdot" style="top:907.5px"></div>
<div class="bdot" style="top:950.2px"></div>
<div class="photo" style="top:560.8px;height:454.2px"><svg width="469.3" height="454.2" viewBox="0 -0.2 469.3 454.2" preserveAspectRatio="none">
<defs>
<linearGradient id="p2sky" x1="0" y1="0" x2="0" y2="1">
<stop offset="0" stop-color="#2c70bf"/><stop offset="0.12" stop-color="#357dc8"/><stop offset="0.28" stop-color="#5496d8"/><stop offset="0.42" stop-color="#7fb0e4"/>
<stop offset="0.52" stop-color="#a9c6ec"/><stop offset="0.60" stop-color="#cfd3ee"/><stop offset="0.665" stop-color="#ecdce2"/><stop offset="0.72" stop-color="#f6d0bb"/>
<stop offset="0.78" stop-color="#f7b997"/><stop offset="0.83" stop-color="#f3a58e"/><stop offset="0.852" stop-color="#e99b9f"/><stop offset="0.872" stop-color="#b896c6"/><stop offset="0.905" stop-color="#9b90cc"/><stop offset="0.955" stop-color="#8c88c7"/><stop offset="1" stop-color="#8b86c6"/>
</linearGradient>
<linearGradient id="p2left" x1="0" y1="0" x2="1" y2="0"><stop offset="0" stop-color="#b9a6d6" stop-opacity="0.55"/><stop offset="0.45" stop-color="#c7b0d6" stop-opacity="0.25"/><stop offset="0.75" stop-color="#ffffff" stop-opacity="0"/></linearGradient>
<filter id="p2b"><feGaussianBlur stdDeviation="0.55"/></filter>
<filter id="p2b2" x="-20%" y="-50%" width="140%" height="200%"><feGaussianBlur stdDeviation="5"/></filter>
</defs>
<rect x="0" y="-1" width="470" height="456" fill="url(#p2sky)"/>
<g filter="url(#p2b2)"><ellipse cx="40" cy="330" rx="160" ry="60" fill="#b9a6d6" opacity="0.35"/></g>
<g filter="url(#p2b2)" opacity="0.8"><ellipse cx="300" cy="255" rx="150" ry="10" fill="#e8e4f2"/><ellipse cx="120" cy="290" rx="120" ry="9" fill="#e9dbe6"/><ellipse cx="330" cy="300" rx="120" ry="8" fill="#f5e3dc"/><ellipse cx="440" cy="350" rx="50" ry="8" fill="#b9a0cf"/><ellipse cx="455" cy="378" rx="40" ry="7" fill="#9d8fcf"/><ellipse cx="360" cy="340" rx="90" ry="10" fill="#f8c39c"/></g>
<rect x="0" y="434.5" width="470" height="21" fill="#181a1c"/>
<rect x="0" y="442.5" width="470" height="13" fill="#5f4f22"/>
<rect x="0" y="451" width="470" height="4" fill="#3a3320"/>
<polygon points="165.0,435.5 165.0,433.9 168.0,434.1 168.0,434.4 172.4,434.6 172.4,434.4 176.7,434.8 176.7,429.4 179.4,431.6 179.4,429.5 184.8,431.6 184.8,430.7 189.5,430.8 189.5,428.5 193.4,428.6 193.4,431.7 198.9,432.8 198.9,431.1 201.8,432.3 201.8,427.1 205.0,428.5 205.0,428.2 208.8,429.5 208.8,431.6 211.5,432.9 211.5,427.9 215.5,430.0 215.5,428.5 219.5,430.5 219.5,427.2 224.5,429.7 224.5,428.6 228.8,428.9 228.8,427.6 232.3,427.7 232.3,431.3 236.3,431.7 236.3,431.1 240.5,432.8 240.5,428.0 245.7,429.3 245.7,426.7 249.3,427.8 249.3,428.4 253.8,430.0 253.8,427.0 259.6,428.8 259.6,428.0 262.3,428.9 262.3,428.1 268.3,428.6 268.3,430.3 272.2,431.0 272.2,431.9 276.3,433.1 276.3,431.3 279.0,431.7 279.0,431.2 282.4,432.3 282.4,426.8 285.1,428.7 285.1,428.7 290.7,429.2 290.7,426.8 294.2,428.8 294.2,429.8 299.8,429.9 299.8,431.1 302.9,432.4 302.9,430.6 307.1,431.4 307.1,430.4 309.6,431.6 309.6,429.8 314.1,429.9 314.1,427.9 318.4,429.0 318.4,427.9 321.1,428.2 321.1,427.3 326.7,428.0 326.7,429.6 330.6,431.7 330.6,428.2 333.3,430.9 333.3,430.7 336.3,432.0 336.3,431.7 338.8,433.0 338.8,431.4 342.6,433.0 342.6,426.8 347.3,429.7 347.3,430.5 351.0,431.8 351.0,431.3 356.5,431.3 356.5,429.2 360.6,431.5 360.6,431.4 364.3,432.6 364.3,427.0 367.4,430.3 367.4,426.3 371.8,429.4 371.8,428.7 374.4,430.0 374.4,426.1 379.9,427.3 379.9,430.4 383.7,432.1 383.7,427.4 388.0,428.1 388.0,430.0 391.3,430.4 391.3,426.1 396.8,426.8 396.8,427.1 401.9,429.7 401.9,428.9 405.6,431.5 405.6,431.8 409.1,432.9 409.1,427.8 414.9,429.5 414.9,426.4 420.9,426.5 420.9,429.8 424.2,431.6 424.2,430.8 427.4,431.5 427.4,426.6 432.8,428.5 432.8,428.1 438.1,430.8 438.1,428.0 443.8,428.7 443.8,427.5 448.0,430.1 448.0,427.3 451.7,427.9 451.7,426.2 455.5,428.4 455.5,426.3 460.6,429.4 460.6,431.2 463.6,431.4 463.6,427.2 466.6,427.7 466.6,426.1 471.4,428.6 470.0,435.5" fill="#2b2742" opacity="0.82" filter="url(#p2b)"/>
<g stroke="#2c2d4a" fill="none" stroke-width="1.50" opacity="0.78" filter="url(#p2b)" stroke-linecap="round">
<line x1="49.2" y1="434.8" x2="79.7" y2="222.0" stroke-width="1.88"/>
<line x1="121.7" y1="434.8" x2="100.2" y2="222.0" stroke-width="1.88"/>
<line x1="80.4" y1="434.8" x2="86.3" y2="222.0"/>
<line x1="90.5" y1="434.8" x2="92.4" y2="222.0"/>
<path d="M49.2 434.8 L116.5 383.8 M121.7 434.8 L56.5 383.8 M56.5 383.8 L116.5 383.8" stroke-width="1.20"/>
<path d="M56.5 383.8 L112.3 341.9 M116.5 383.8 L62.5 341.9 M62.5 341.9 L112.3 341.9" stroke-width="1.20"/>
<path d="M62.5 341.9 L108.9 307.6 M112.3 341.9 L67.4 307.6 M67.4 307.6 L108.9 307.6" stroke-width="1.20"/>
<path d="M67.4 307.6 L106.0 279.5 M108.9 307.6 L71.5 279.5 M71.5 279.5 L106.0 279.5" stroke-width="1.20"/>
<path d="M71.5 279.5 L103.7 256.4 M106.0 279.5 L74.8 256.4 M74.8 256.4 L103.7 256.4" stroke-width="1.20"/>
<path d="M74.8 256.4 L101.8 237.5 M103.7 256.4 L77.5 237.5 M77.5 237.5 L101.8 237.5" stroke-width="1.20"/>
<path d="M77.5 237.5 L100.2 222.0 M101.8 237.5 L79.7 222.0 M79.7 222.0 L100.2 222.0" stroke-width="1.20"/>
<path d="M41.2 214.5 L80.4 217.0 L99.7 217.0 L122.6 224.0 L100.5 225.0 L79.3 225.0 Z" stroke-width="1.65"/>
<path d="M39.4 265.0 L74.0 262.0 L104.2 262.0 L108.3 268.0 L105.0 270.0 L72.8 270.0 Z" stroke-width="1.65"/>
<path d="M35.8 313.5 L67.1 310.0 L109.1 310.0 L115.4 316.0 L110.0 319.0 L65.8 319.0 Z" stroke-width="1.65"/>
<path d="M52.8 201.4 L79.7 222 M52.8 201.4 L41.2 214.5 M60 205 L100 222" stroke-width="1.80"/>
</g>
<g stroke="#2c2d4a" stroke-width="1.2" opacity="0.6" fill="none" filter="url(#p2b)"><path d="M56 222 L63 236 L72 226 M58 270 L64 286 L73 272 M54 320 L60 338 L70 324 M104 226 L110 248 L116 232 M103 272 L110 298 M104 320 L110 346"/></g>
<g stroke="#2c2d4a" fill="none" stroke-width="1.55" opacity="0.82" filter="url(#p2b)" stroke-linecap="round">
<line x1="126.2" y1="434.8" x2="155.7" y2="228.0" stroke-width="1.94"/>
<line x1="193.2" y1="434.8" x2="170.9" y2="228.0" stroke-width="1.94"/>
<line x1="155.0" y1="434.8" x2="160.6" y2="228.0"/>
<line x1="164.4" y1="434.8" x2="165.1" y2="228.0"/>
<path d="M126.2 434.8 L187.9 385.2 M193.2 434.8 L133.3 385.2 M133.3 385.2 L187.9 385.2" stroke-width="1.24"/>
<path d="M133.3 385.2 L183.5 344.6 M187.9 385.2 L139.1 344.6 M139.1 344.6 L183.5 344.6" stroke-width="1.24"/>
<path d="M139.1 344.6 L179.9 311.2 M183.5 344.6 L143.8 311.2 M143.8 311.2 L179.9 311.2" stroke-width="1.24"/>
<path d="M143.8 311.2 L176.9 283.9 M179.9 311.2 L147.7 283.9 M147.7 283.9 L176.9 283.9" stroke-width="1.24"/>
<path d="M147.7 283.9 L174.5 261.5 M176.9 283.9 L150.9 261.5 M150.9 261.5 L174.5 261.5" stroke-width="1.24"/>
<path d="M150.9 261.5 L172.5 243.1 M174.5 261.5 L153.5 243.1 M153.5 243.1 L172.5 243.1" stroke-width="1.24"/>
<path d="M153.5 243.1 L170.9 228.0 M172.5 243.1 L155.7 228.0 M155.7 228.0 L170.9 228.0" stroke-width="1.24"/>
<path d="M117.2 225.0 L156.2 224.5 L170.5 224.5 L188.8 232.0 L171.4 232.5 L155.1 232.5 Z" stroke-width="1.71"/>
<path d="M124.4 267.6 L150.1 267.5 L175.2 267.5 L197.7 282.8 L176.1 276.5 L148.8 276.5 Z" stroke-width="1.71"/>
<path d="M119.0 309.6 L144.1 309.5 L179.7 309.5 L201.3 322.1 L180.7 318.5 L142.8 318.5 Z" stroke-width="1.71"/>
<path d="M137.8 211.2 L156 228 M137.8 211.2 L117.2 225 M146 216 L171 228 M188.8 232 L201.3 246.1 L171 236" stroke-width="1.86"/>
</g>
<g stroke="#2c2d4a" stroke-width="1.6" opacity="0.75" fill="none" filter="url(#p2b)"><path d="M128 232 L138.6 247.9 L151 238 M172.7 245.2 L186 259.5 L201.3 246.1 M129 276 L141 290 L153 280 M174 288 L184 298 L197.7 282.8 M126 316 L138 332 L150 322 M176 326 L184 338 L196 326"/></g>
<g stroke="#2c2d4a" fill="none" stroke-width="1.60" opacity="0.85" filter="url(#p2b)" stroke-linecap="round">
<line x1="366.5" y1="433.0" x2="398.5" y2="108.0" stroke-width="2.00"/>
<line x1="446.4" y1="433.0" x2="417.7" y2="108.0" stroke-width="2.00"/>
<line x1="400.9" y1="433.0" x2="404.6" y2="108.0"/>
<line x1="412.0" y1="433.0" x2="410.4" y2="108.0"/>
<path d="M366.5 433.0 L440.2 362.7 M446.4 433.0 L373.4 362.7 M373.4 362.7 L440.2 362.7" stroke-width="1.28"/>
<path d="M373.4 362.7 L435.1 305.1 M440.2 362.7 L379.1 305.1 M379.1 305.1 L435.1 305.1" stroke-width="1.28"/>
<path d="M379.1 305.1 L430.9 257.8 M435.1 305.1 L383.7 257.8 M383.7 257.8 L430.9 257.8" stroke-width="1.28"/>
<path d="M383.7 257.8 L427.5 219.1 M430.9 257.8 L387.6 219.1 M387.6 219.1 L427.5 219.1" stroke-width="1.28"/>
<path d="M387.6 219.1 L424.7 187.3 M427.5 219.1 L390.7 187.3 M390.7 187.3 L424.7 187.3" stroke-width="1.28"/>
<path d="M390.7 187.3 L422.4 161.3 M424.7 187.3 L393.3 161.3 M393.3 161.3 L422.4 161.3" stroke-width="1.28"/>
<path d="M393.3 161.3 L420.5 139.9 M422.4 161.3 L395.4 139.9 M395.4 139.9 L420.5 139.9" stroke-width="1.28"/>
<path d="M395.4 139.9 L419.0 122.4 M420.5 139.9 L397.1 122.4 M397.1 122.4 L419.0 122.4" stroke-width="1.28"/>
<path d="M397.1 122.4 L417.7 108.0 M419.0 122.4 L398.5 108.0 M398.5 108.0 L417.7 108.0" stroke-width="1.28"/>
<path d="M382.5 112.0 L398.1 112.0 L418.1 112.0 L432.0 118.0 L418.6 118.0 L397.5 118.0 Z" stroke-width="1.76"/>
<path d="M384.0 136.0 L395.8 135.0 L420.1 135.0 L431.0 140.0 L420.6 141.0 L395.3 141.0 Z" stroke-width="1.76"/>
<path d="M379.0 162.0 L393.3 161.0 L422.4 161.0 L434.0 166.0 L422.9 167.0 L392.7 167.0 Z" stroke-width="1.76"/>
<path d="M381.0 183.0 L391.2 182.0 L424.2 182.0 L435.5 186.0 L424.8 188.0 L390.6 188.0 Z" stroke-width="1.76"/>
<path d="M381.0 208.0 L388.8 207.0 L426.4 207.0 L432.0 212.0 L427.0 213.0 L388.2 213.0 Z" stroke-width="1.76"/>
<path d="M382.5 226.0 L387.0 225.0 L428.0 225.0 L432.0 229.0 L428.6 231.0 L386.4 231.0 Z" stroke-width="1.76"/>
<path d="M377.7 86.3 L433.6 119.8 M377.7 86.3 L398.5 108 M390 93 L417.7 108 M377.7 86.3 L382.5 112" stroke-width="1.92"/>
</g>
<g stroke="#2c2d4a" stroke-width="1.5" opacity="0.7" fill="none" filter="url(#p2b)"><path d="M385 114 L385 136 M389 114 L389 136 M430 140 L430 162 M426 140 L426 160 M381 164 L381 186 M385 164 L385 184 M433 186 L433 208 M383 210 L383 236 M431 212 L431 238 M385 228 L385 250 M430 230 L430 252"/></g>
<g stroke="#3a3c60" stroke-width="0.9" opacity="0.42" fill="none" filter="url(#p2b)">
<line x1="0.0" y1="262.0" x2="41.0" y2="214.5"/>
<line x1="0.0" y1="268.0" x2="39.4" y2="265.0"/>
<line x1="0.0" y1="300.0" x2="39.0" y2="266.0"/>
<line x1="0.0" y1="306.0" x2="35.8" y2="313.5"/>
<line x1="0.0" y1="340.0" x2="36.0" y2="315.0"/>
<line x1="0.0" y1="352.0" x2="49.0" y2="330.0"/>
<line x1="0.0" y1="376.0" x2="60.0" y2="338.0"/>
<line x1="122.0" y1="224.0" x2="382.5" y2="128.0"/>
<line x1="108.0" y1="268.0" x2="384.0" y2="150.0"/>
<line x1="115.0" y1="316.0" x2="379.0" y2="176.0"/>
<line x1="201.0" y1="246.0" x2="381.0" y2="196.0"/>
<line x1="198.0" y1="283.0" x2="381.0" y2="220.0"/>
<line x1="201.0" y1="322.0" x2="382.5" y2="240.0"/>
<line x1="186.0" y1="259.0" x2="385.0" y2="136.0"/>
<line x1="184.0" y1="298.0" x2="385.0" y2="184.0"/>
<line x1="184.0" y1="338.0" x2="385.0" y2="250.0"/>
<line x1="432.0" y1="118.0" x2="469.0" y2="108.0"/>
<line x1="431.0" y1="140.0" x2="469.0" y2="130.0"/>
<line x1="434.0" y1="166.0" x2="469.0" y2="158.0"/>
<line x1="435.0" y1="186.0" x2="469.0" y2="180.0"/>
<line x1="432.0" y1="212.0" x2="469.0" y2="206.0"/>
<line x1="432.0" y1="229.0" x2="469.0" y2="224.0"/>
<line x1="430.0" y1="252.0" x2="469.0" y2="248.0"/>
<line x1="431.0" y1="238.0" x2="469.0" y2="236.0"/>
<line x1="0.0" y1="250.0" x2="469.0" y2="128.0"/>
<line x1="0.0" y1="286.0" x2="469.0" y2="170.0"/>
<line x1="0.0" y1="322.0" x2="469.0" y2="215.0"/>
<line x1="200.0" y1="300.0" x2="469.0" y2="262.0"/>
<line x1="200.0" y1="340.0" x2="469.0" y2="300.0"/>
</g>
</svg></div>
<div class="panel" style="top:1077.6px;height:454.2px"></div>
<div class="hdash" style="top:1335.6px"></div>
<div class="bdot" style="top:1424.7px"></div>
<div class="bdot" style="top:1466.8px"></div>
<div class="photo" style="top:1077.6px;height:454.2px"><svg width="469.3" height="454.2" viewBox="0 0.6 469.3 454.2" preserveAspectRatio="none">
<defs>
<linearGradient id="p3wall" x1="0" y1="0" x2="1" y2="0.3"><stop offset="0" stop-color="#c6d8d5"/><stop offset="0.6" stop-color="#d6e6e3"/><stop offset="1" stop-color="#cfe0dd"/></linearGradient>
<linearGradient id="p3car1" x1="0" y1="0" x2="0" y2="1"><stop offset="0" stop-color="#3886c4"/><stop offset="0.35" stop-color="#2e7bba"/><stop offset="0.7" stop-color="#2972b0"/><stop offset="1" stop-color="#2467a4"/></linearGradient>
<linearGradient id="p3car2" x1="0" y1="0" x2="0.3" y2="1"><stop offset="0" stop-color="#2b79b9"/><stop offset="0.5" stop-color="#2572b2"/><stop offset="1" stop-color="#2575b6"/></linearGradient>
<linearGradient id="p3post" x1="0" y1="0" x2="1" y2="0"><stop offset="0" stop-color="#d9d9d9"/><stop offset="0.18" stop-color="#f1f1f1"/><stop offset="0.6" stop-color="#f6f6f6"/><stop offset="0.88" stop-color="#ececec"/><stop offset="1" stop-color="#cfcfcf"/></linearGradient>
<linearGradient id="p3ring" x1="0" y1="0" x2="1" y2="0"><stop offset="0" stop-color="#b9bec4"/><stop offset="0.3" stop-color="#e9ebee"/><stop offset="0.7" stop-color="#e2e4e8"/><stop offset="1" stop-color="#aeb3ba"/></linearGradient>
<linearGradient id="p3glass" x1="0" y1="0" x2="1" y2="0.4"><stop offset="0" stop-color="#a7bcb6"/><stop offset="0.35" stop-color="#7d948f"/><stop offset="0.6" stop-color="#56696a"/><stop offset="1" stop-color="#3a4647"/></linearGradient>
<linearGradient id="p3face" x1="0" y1="0" x2="0" y2="1"><stop offset="0" stop-color="#43638f"/><stop offset="1" stop-color="#385783"/></linearGradient>
<filter id="p3b"><feGaussianBlur stdDeviation="0.8"/></filter>
<filter id="p3b2" x="-20%" y="-20%" width="140%" height="140%"><feGaussianBlur stdDeviation="3"/></filter>
<filter id="p3b3" x="-20%" y="-20%" width="140%" height="140%"><feGaussianBlur stdDeviation="6"/></filter>
</defs>
<rect width="470" height="456" fill="#8e8e8c"/>
<polygon points="0.0,0.0 212.0,0.0 212.0,121.0 0.0,121.0" fill="url(#p3wall)" />
<polygon points="0.0,119.0 40.0,119.0 40.0,240.0 0.0,240.0" fill="#aeaeac" />
<polygon points="0.0,119.0 40.0,119.0 40.0,138.0 0.0,138.0" fill="#919190" />
<polygon points="16.4,233.0 16.4,176.0 24.5,161.8 31.7,159.8 31.7,233.0" fill="#9fb3c6" />
<polygon points="17.4,233.0 17.4,196.4 31.7,188.2 31.7,233.0" fill="#2a3a4c" />
<polygon points="15.4,223.0 33.7,223.0 33.7,247.4 22.5,239.3" fill="#26303c" />
<polygon points="211.0,0.0 469.0,0.0 469.0,48.0 211.0,48.0" fill="#1a1b1e" />
<rect x="251.3" y="0" width="3.2" height="40" fill="#5c6063" opacity="0.8"/>
<rect x="297.0" y="0" width="3.2" height="40" fill="#5c6063" opacity="0.8"/>
<rect x="343.8" y="0" width="3.2" height="40" fill="#5c6063" opacity="0.8"/>
<rect x="390.6" y="0" width="3.2" height="40" fill="#5c6063" opacity="0.8"/>
<polygon points="254.3,5.2 423.1,5.2 423.1,23.5 254.3,23.5" fill="#26323a" opacity="0.6"/>
<polygon points="426.2,2.2 468.9,2.2 468.9,32.7 426.2,25.5" fill="#c9cbcc" />
<rect x="431.3" y="0" width="3" height="30" fill="#3b3d40" opacity="0.85"/>
<rect x="440.4" y="0" width="3" height="30" fill="#3b3d40" opacity="0.85"/>
<rect x="449.6" y="0" width="3" height="30" fill="#3b3d40" opacity="0.85"/>
<rect x="458.7" y="0" width="3" height="30" fill="#3b3d40" opacity="0.85"/>
<rect x="466.8" y="0" width="3" height="30" fill="#3b3d40" opacity="0.85"/>
<polygon points="124.2,109.9 134.4,100.4 195.4,66.2 247.2,38.8 297.0,31.2 358.0,27.6 468.9,31.2 468.9,233.0 254.3,223.0 250.3,266.7 124.2,266.7 124.2,233.0" fill="url(#p3car1)" />
<clipPath id="p3c1"><polygon points="124.2,109.9 134.4,100.4 195.4,66.2 247.2,38.8 297.0,31.2 358.0,27.6 468.9,31.2 468.9,233.0 254.3,223.0 250.3,266.7 124.2,266.7 124.2,233.0"/></clipPath>
<g clip-path="url(#p3c1)"><g filter="url(#p3b3)">
<polygon points="126.2,123.2 297.0,113.0 309.2,135.4 215.7,155.7 130.3,155.7" fill="#2a6fb0" opacity="0.55"/>
<polygon points="225.9,159.8 327.5,123.2 378.4,123.2 297.0,176.0 232.0,188.2" fill="#5aa5de" opacity="0.75"/>
<polygon points="134.4,176.0 215.7,167.9 225.9,216.7 134.4,233.0" fill="#3f8fd0" opacity="0.6"/>
<polygon points="297.0,115.0 419.1,115.0 378.4,155.7 317.4,167.9" fill="#3d8ace" opacity="0.6"/>
</g></g>
<polygon points="135.4,100.8 247.2,40.2 346.9,43.0 280.8,107.9 195.4,107.9" fill="url(#p3glass)" />
<polygon points="132.3,102.8 195.4,105.9 280.8,106.9 276.7,115.0 175.0,113.0 134.4,106.9" fill="#15181a" />
<polygon points="215.7,43.8 252.3,41.4 250.3,94.7 211.6,98.7" fill="#2b3231" opacity="0.55"/>
<polygon points="378.4,44.2 468.9,40.2 468.9,88.6 419.1,106.9 305.2,117.5 309.2,106.9" fill="#1d1a1c" />
<g filter="url(#p3b)"><polygon points="376.4,70.3 384.5,62.1 400.8,63.2 407.9,78.4 406.9,98.7 414.0,102.8 414.0,109.9 384.5,109.9 378.4,98.7" fill="#c8bcb0" /></g>
<ellipse cx="365.2" cy="100.4" rx="19" ry="9.5" fill="#3f93d6"/>
<polygon points="345.8,108.9 384.5,106.9 378.4,115.0 349.9,116.0" fill="#173a5e" />
<polygon points="309.2,108.9 325.5,106.9 327.5,115.0 311.3,117.0" fill="#d8d8d8" opacity="0.7"/>
<g filter="url(#p3b)">
<polygon points="137.4,169.9 154.7,153.7 185.2,133.3 219.8,123.2 225.9,133.3 215.7,147.6 191.3,161.8 160.8,167.9" fill="#7fa6d2" opacity="0.9"/>
<polygon points="146.6,165.9 175.0,153.7 195.4,155.7 171.0,165.9" fill="#1b2a45" opacity="0.8"/>
<polygon points="181.1,139.4 217.7,127.2 219.8,135.4 187.2,147.6" fill="#dbe8f6" opacity="0.8"/>
<polygon points="142.5,165.9 166.9,149.6 175.0,153.7 150.6,167.9" fill="#dbe8f6" opacity="0.7"/>
</g>
<g filter="url(#p3b)"><ellipse cx="152.7" cy="237.2" rx="14" ry="8" fill="#173555"/><ellipse cx="148.6" cy="238.3" rx="8" ry="5" fill="#cfe2f2"/></g>
<g filter="url(#p3b)">
<polygon points="226.1,278.7 227.5,229.5 240.1,194.4 261.2,176.1 285.1,170.5 303.4,173.3 290.7,201.4 278.1,243.6 254.2,299.8 226.1,313.9" fill="#101214" />
<polygon points="235.9,285.8 238.7,222.5 258.4,190.2 285.1,185.9 278.1,215.5 258.4,285.8 247.1,313.9" fill="#34363a" />
<polygon points="250.0,250.6 254.2,218.3 271.0,205.6 282.3,207.0 271.0,243.6 258.4,268.9" fill="#aeb6bf" />
</g>
<polygon points="124.2,266.7 250.3,266.7 254.3,290.1 175.0,292.1 124.2,293.2" fill="#17181a" />
<polygon points="0.1,310.4 33.7,324.7 134.4,318.6 211.6,292.1 175.0,284.0 124.2,293.2 124.2,266.7 33.7,266.7 0.1,266.7" fill="#5e6062" />
<polygon points="0.1,312.5 34.7,328.7 122.2,318.6 158.8,365.4 77.4,387.7 0.1,353.2" fill="#a3a3a1" />
<polygon points="122.2,294.2 211.6,292.1 154.7,314.5 158.8,365.4 122.2,318.6" fill="#9b9b99" />
<polygon points="0.1,353.2 77.4,387.7 158.8,365.4 158.8,372.5 77.4,396.3 0.1,363.3" fill="#6b6b6a" />
<polygon points="0.1,363.3 77.4,396.3 158.8,372.5 195.4,402.0 292.5,431.5 373.0,456.0 0.1,455.8" fill="#939391" />
<g filter="url(#p3b)">
<polygon points="154.7,312.5 254.3,290.1 256.4,345.0 200.0,395.0 212.0,404.7 292.5,431.5 373.0,455.0 470.0,455.0 468.9,406.0 254.3,336.9 246.2,353.2 160.8,365.4" fill="#2c2f32" />
<polygon points="160.8,365.4 246.2,353.2 256.4,345.0 212.0,404.6 195.4,402.0" fill="#2c2f32" />
<polygon points="215.0,398.0 292.5,428.0 380.0,455.0 470.0,455.0 468.9,412.1 337.7,385.7 246.2,365.4" fill="#17181a" />
</g>
<polygon points="468.9,78.4 429.2,106.9 396.7,133.3 370.2,151.6 309.2,169.9 309.0,169.1 290.7,194.4 279.5,229.5 258.4,268.9 250.0,306.8 250.3,284.0 254.3,336.9 297.0,365.4 398.7,397.9 468.9,415.2" fill="url(#p3car2)" />
<clipPath id="p3c2"><polygon points="468.9,78.4 429.2,106.9 396.7,133.3 370.2,151.6 309.2,169.9 309.0,169.1 290.7,194.4 279.5,229.5 258.4,268.9 250.0,306.8 250.3,284.0 254.3,336.9 297.0,365.4 398.7,397.9 468.9,415.2"/></clipPath>
<g clip-path="url(#p3c2)"><g filter="url(#p3b3)">
<polygon points="359.6,162.0 467.9,149.4 467.9,201.4 408.8,209.8" fill="#2267a8" opacity="0.6"/>
<polygon points="406.0,229.5 467.9,223.9 467.9,313.9 380.7,313.9 373.7,271.7" fill="#2a7cc2" opacity="0.7"/>
<polygon points="256.4,273.8 337.7,275.9 468.9,290.1 468.9,308.4 256.4,300.3" fill="#3587ca" opacity="0.6"/>
<polygon points="262.5,365.4 398.7,402.0 468.9,418.2 468.9,385.7 358.0,365.4" fill="#2e80c4" opacity="0.8"/>
</g></g>
<polygon points="399.0,132.5 431.3,111.4 467.9,94.6 467.9,149.4 422.9,143.8" fill="#222426" />
<polygon points="434.1,117.1 467.9,97.4 467.9,121.3 448.2,124.1" fill="#a9bdb2" />
<path d="M394.8 135.3 L467.9 90.3" stroke="#2a2c2e" stroke-width="4" fill="none"/>
<path d="M354.0 164.9 Q380.7 142.4 420.1 126.9" stroke="#8fc2ea" stroke-width="2.2" fill="none" opacity="0.7" filter="url(#p3b)"/>
<g filter="url(#p3b)"><polygon points="309.0,169.1 296.3,187.3 285.1,218.3 271.0,264.7 258.4,313.9 271.0,313.9 285.1,257.6 310.4,229.5 316.0,207.0" fill="#8fb8de" opacity="0.55"/></g>
<g filter="url(#p3b)">
<polygon points="309.0,169.1 331.5,167.0 354.0,170.5 380.7,195.8 406.0,226.7 394.8,243.6 370.9,268.9 338.5,267.5 313.2,260.4 310.4,229.5 316.0,207.0" fill="#0d0d0f" />
<polygon points="334.3,185.9 366.6,187.3 370.9,201.4 338.5,200.0" fill="#9b9b9b" />
<polygon points="335.7,221.1 352.6,219.7 354.0,246.4 338.5,246.4" fill="#c6c9cc" />
<circle cx="375.8" cy="242.2" r="5.6" fill="#e8261f"/>
</g>
<path d="M285.1 236.6 L337.1 219.7" stroke="#2549b8" stroke-width="12" stroke-linecap="round" fill="none" filter="url(#p3b)"/>
<g filter="url(#p3b)">
<polygon points="259.0,320.1 288.5,326.1 356.9,346.9 413.3,351.0 440.2,360.4 454.9,379.2 399.9,373.8 354.9,369.8 288.5,349.6 265.7,338.9 259.0,328.2" fill="#0c0d0e" />
<path d="M359.6 314.7 Q410.6 320.1 426.7 338.9 T448.2 364.4" stroke="#1d5f98" stroke-width="2.5" fill="none" opacity="0.8"/>
<path d="M260.3 318.8 L287.2 326.1" stroke="#dfe8f0" stroke-width="2" fill="none" opacity="0.9"/>
<polygon points="288.5,303.3 354.9,317.4 354.9,367.1 288.5,346.9" fill="#cfcfd1" />
<polygon points="288.5,303.3 354.9,317.4 354.9,320.1 288.5,306.0" fill="#e4e4e6" />
</g>
<polygon points="30.6,54.0 123.2,123.2 123.2,223.0 123.2,298.2 33.7,298.2 33.7,223.0" fill="url(#p3post)" />
<ellipse cx="78.4" cy="298.6" rx="44.5" ry="7" fill="#e9e9e9"/>
<polygon points="35.7,300.3 122.2,300.3 122.2,336.9 35.7,336.9" fill="url(#p3ring)" />
<ellipse cx="78.8" cy="336.9" rx="43.2" ry="7.5" fill="#dfe2e6"/>
<ellipse cx="78.4" cy="299.9" rx="44.8" ry="6.5" fill="#f2f2f2"/>
<g filter="url(#p3b2)"><polygon points="0.1,273.8 33.7,273.8 33.7,328.7 0.1,312.5" fill="#55585b" opacity="0.85"/></g>
<g transform="rotate(-23 71.7 73.5)"><ellipse cx="71.7" cy="73.5" rx="33.5" ry="71.5" fill="#fafafa"/><ellipse cx="71.7" cy="73.5" rx="29.5" ry="67" fill="url(#p3face)"/></g>
<g filter="url(#p3b)"><circle cx="63.0" cy="39.5" r="5" fill="#e23a32"/>
<ellipse cx="93.0" cy="119.0" rx="12" ry="14" fill="#141619"/>
<ellipse cx="86.0" cy="92.0" rx="4.5" ry="8" fill="#b9c2cc" transform="rotate(-23 86 92)"/>
<rect x="60.0" y="63.0" width="22" height="7" fill="#7d5a78" opacity="0.45"/></g>
<polygon points="123.2,133.3 138.4,133.3 138.4,139.4 123.2,140.4" fill="#a9adb1" />
<polygon points="125.2,139.4 130.3,139.4 130.3,155.7 125.2,155.7" fill="#6d7175" />
<path d="M286.9 239.3 C272.6 263.7 264.5 300.3 246.2 353.2 S205.5 418.2 164.9 438.6 S138.4 438.6 142.5 418.2 S154.7 385.7 171.0 369.4 S187.2 336.9 146.6 318.6" stroke="#15171a" stroke-width="5.6" fill="none" stroke-linecap="round" filter="url(#p3b)"/>
<path d="M166.9 365.4 C134.4 369.4 134.4 385.7 146.6 402.0 S160.8 422.3 166.9 430.4" stroke="#1c1e21" stroke-width="5" fill="none" stroke-linecap="round" filter="url(#p3b)"/>
</svg></div>
<div class="ln g-h1" style="left:119.09px;top:54.70px;font-size:53.00px;line-height:64px;letter-spacing:-0.297px"><span class="t">Upstream</span></div>
<div class="ln g-h1" style="left:119.06px;top:571.10px;font-size:53.00px;line-height:64px;letter-spacing:0.339px"><span class="t">Mid-stream</span></div>
<div class="ln g-h1" style="left:118.16px;top:1087.90px;font-size:53.00px;line-height:64px;letter-spacing:-0.222px"><span class="t">Downstream</span></div>
<div class="ln g-h2" style="left:358.74px;top:28.30px;font-size:45.20px;line-height:54px;letter-spacing:0.407px">Changes in power</div>
<div class="ln g-h2" style="left:359.19px;top:74.20px;font-size:45.20px;line-height:54px;letter-spacing:0.253px">generation mix</div>
<div class="ln g-h2" style="left:396.08px;top:553.40px;font-size:45.20px;line-height:54px;letter-spacing:0.428px">Expansion of electricity</div>
<div class="ln g-h2" style="left:398.05px;top:599.20px;font-size:45.20px;line-height:54px;letter-spacing:0.524px">transmission and distribution</div>
<div class="ln g-h2" style="left:422.00px;top:1070.90px;font-size:45.20px;line-height:54px;letter-spacing:0.272px">Transformations in electric</div>
<div class="ln g-h2" style="left:422.29px;top:1116.10px;font-size:45.20px;line-height:54px;letter-spacing:0.473px">power usage</div>
<div class="ln g-b" style="left:144.49px;top:235.10px;font-size:38.90px;line-height:47px;letter-spacing:0.299px">Power generation</div>
<div class="ln g-b" style="left:119.67px;top:277.50px;font-size:38.90px;line-height:47px;letter-spacing:0.234px">mix reliant mainly on</div>
<div class="ln g-b" style="left:134.81px;top:320.20px;font-size:38.90px;line-height:47px;letter-spacing:0.189px">fossil fuels such as</div>
<div class="ln g-b" style="left:187.64px;top:362.60px;font-size:38.90px;line-height:47px;letter-spacing:0.284px">coal and gas</div>
<div class="ln g-bb" style="left:692.80px;top:193.20px;font-size:38.40px;line-height:46px;letter-spacing:0.614px"><b>Emergence and</b></div>
<div class="ln g-bb" style="left:673.75px;top:235.70px;font-size:38.40px;line-height:46px;letter-spacing:0.409px"><b>expansion toward</b></div>
<div class="ln g-bb" style="left:672.90px;top:278.10px;font-size:38.40px;line-height:46px;letter-spacing:0.436px"><b>renewable energy</b></div>
<div class="ln g-bm" style="left:691.94px;top:320.50px;font-size:38.60px;line-height:46px;letter-spacing:0.258px"><b>sources</b> such as</div>
<div class="ln g-b" style="left:713.69px;top:362.20px;font-size:38.90px;line-height:47px;letter-spacing:0.283px">wind and solar</div>
<div class="ln g-b" style="left:785.27px;top:404.80px;font-size:38.90px;line-height:47px;letter-spacing:0.823px">power</div>
<div class="ln g-b" style="left:180.19px;top:729.60px;font-size:38.90px;line-height:47px;letter-spacing:0.363px">Power supply</div>
<div class="ln g-b" style="left:133.01px;top:772.30px;font-size:38.90px;line-height:47px;letter-spacing:0.229px">through centralized</div>
<div class="ln g-b" style="left:151.81px;top:814.80px;font-size:38.90px;line-height:47px;letter-spacing:0.235px">transmission and</div>
<div class="ln g-b" style="left:123.84px;top:857.40px;font-size:38.90px;line-height:47px;letter-spacing:0.476px">distribution systems</div>
<div class="ln g-b" style="left:193.74px;top:899.80px;font-size:38.90px;line-height:47px;letter-spacing:0.376px">of electricity</div>
<div class="ln g-b" style="left:732.52px;top:729.90px;font-size:38.90px;line-height:47px;letter-spacing:0.065px">Transition to</div>
<div class="ln g-bb" style="left:713.26px;top:773.30px;font-size:38.40px;line-height:46px;letter-spacing:0.596px"><b>decentralized</b></div>
<div class="ln g-bb" style="left:678.62px;top:815.70px;font-size:38.40px;line-height:46px;letter-spacing:0.232px"><b>transmission and</b></div>
<div class="ln g-bb" style="left:733.46px;top:858.20px;font-size:38.40px;line-height:46px;letter-spacing:0.174px"><b>distribution</b></div>
<div class="ln g-bb" style="left:762.75px;top:900.50px;font-size:38.40px;line-height:46px;letter-spacing:0.088px"><b>systems</b></div>
<div class="ln g-b" style="left:127.20px;top:1225.30px;font-size:38.90px;line-height:47px;letter-spacing:0.019px">Vehicles and supply</div>
<div class="ln g-b" style="left:156.34px;top:1267.80px;font-size:38.90px;line-height:47px;letter-spacing:0.356px">chains designed</div>
<div class="ln g-b" style="left:165.07px;top:1310.20px;font-size:38.90px;line-height:47px;letter-spacing:0.350px">based on using</div>
<div class="ln g-b" style="left:126.07px;top:1352.80px;font-size:38.90px;line-height:47px;letter-spacing:0.478px">internal combustion</div>
<div class="ln g-b" style="left:178.54px;top:1395.30px;font-size:38.90px;line-height:47px;letter-spacing:-0.024px">engines as an</div>
<div class="ln g-b" style="left:176.24px;top:1437.50px;font-size:38.90px;line-height:47px;letter-spacing:0.071px">energy source</div>
<div class="ln g-b" style="left:716.95px;top:1203.90px;font-size:38.90px;line-height:47px;letter-spacing:0.296px">Conversion of</div>
<div class="ln g-b" style="left:686.24px;top:1245.90px;font-size:38.90px;line-height:47px;letter-spacing:-0.012px">energy sources in</div>
<div class="ln g-b" style="left:667.54px;top:1288.40px;font-size:38.90px;line-height:47px;letter-spacing:0.624px">connection with the</div>
<div class="ln g-bb" style="left:751.05px;top:1331.80px;font-size:38.40px;line-height:46px;letter-spacing:0.306px"><b>spread of</b></div>
<div class="ln g-bb" style="left:707.35px;top:1374.30px;font-size:38.40px;line-height:46px;letter-spacing:0.216px"><b>environmental</b></div>
<div class="ln g-bb" style="left:689.42px;top:1416.80px;font-size:38.40px;line-height:46px;letter-spacing:0.002px"><b>friendly vehicles</b></div>
<div class="ln g-bb" style="left:678.56px;top:1458.80px;font-size:38.40px;line-height:46px;letter-spacing:0.046px"><b>(EVs, FCVs*, etc.)</b></div>
<div class="ln g-fn" style="left:673.03px;top:1515.40px;font-size:27.20px;line-height:33px;letter-spacing:0.083px"><span class="l">*Fuel cell vehicles</span></div>
<div class="ln g-big" style="left:1154.56px;top:107.70px;font-size:124.00px;line-height:149px;letter-spacing:-2.623px"><b>4x</b></div>
<div class="ln g-big" style="left:1152.78px;top:624.80px;font-size:124.00px;line-height:149px;letter-spacing:-0.843px"><b>2x</b></div>
<div class="ln g-big" style="left:1153.86px;top:1142.40px;font-size:124.00px;line-height:149px;letter-spacing:-1.923px"><b>4x</b></div>
<div class="ln g-d" style="left:1337.46px;top:80.90px;font-size:38.00px;line-height:46px;letter-spacing:-0.323px"><span class="l">Renewable energy requires</span></div>
<div class="ln g-d" style="left:1338.08px;top:129.50px;font-size:38.00px;line-height:46px;letter-spacing:0.247px"><span class="l">about four times more copper</span></div>
<div class="ln g-d" style="left:1339.22px;top:178.00px;font-size:38.00px;line-height:46px;letter-spacing:-0.155px"><span class="l">than fossil fuels per MW of</span></div>
<div class="ln g-d" style="left:1337.92px;top:226.50px;font-size:38.00px;line-height:46px;letter-spacing:0.099px"><span class="l">power generation capacity</span></div>
<div class="ln g-d" style="left:1337.06px;top:597.30px;font-size:38.00px;line-height:46px;letter-spacing:-0.030px"><span class="l">Decentralized network</span></div>
<div class="ln g-d" style="left:1337.82px;top:646.20px;font-size:38.00px;line-height:46px;letter-spacing:0.169px"><span class="l">requires about twice as much</span></div>
<div class="ln g-d" style="left:1338.58px;top:694.80px;font-size:38.00px;line-height:46px;letter-spacing:0.377px"><span class="l">copper as compared to the</span></div>
<div class="ln g-d" style="left:1338.58px;top:743.70px;font-size:38.00px;line-height:46px;letter-spacing:0.002px"><span class="l">conventional supply grid</span></div>
<div class="ln g-d" style="left:1337.06px;top:1114.60px;font-size:38.00px;line-height:46px;letter-spacing:-0.067px"><span class="l">Electric vehicles incorporate</span></div>
<div class="ln g-d" style="left:1337.58px;top:1163.50px;font-size:38.00px;line-height:46px;letter-spacing:0.143px"><span class="l">and use about four times</span></div>
<div class="ln g-d" style="left:1337.82px;top:1212.70px;font-size:38.00px;line-height:46px;letter-spacing:0.121px"><span class="l">more copper than internal</span></div>
<div class="ln g-d" style="left:1337.58px;top:1261.30px;font-size:38.00px;line-height:46px;letter-spacing:0.083px"><span class="l">combustion vehicles</span></div>
<div class="ln g-bl" style="left:1164.17px;top:368.20px;font-size:30.40px;line-height:36px;letter-spacing:0.479px">Fossil fuels: <b>Up to 1 ton</b>/MW</div>
<div class="ln g-bl" style="left:1164.17px;top:410.80px;font-size:30.40px;line-height:36px;letter-spacing:0.408px">Renewable energy: <b>Up to 4 tons</b>/MW</div>
<div class="ln g-bl" style="left:1163.88px;top:894.40px;font-size:30.40px;line-height:36px;letter-spacing:0.599px">Centralized: <b>Up to 10 tons</b>/km</div>
<div class="ln g-bl" style="left:1162.97px;top:937.50px;font-size:30.40px;line-height:36px;letter-spacing:0.609px">Decentralized: <b>Up to 20 tons</b>/km</div>
<div class="ln g-bl" style="left:1162.66px;top:1411.70px;font-size:30.40px;line-height:36px;letter-spacing:0.586px">Internal combustion engine vehicles: <b>24 kg</b>/vehicle</div>
<div class="ln g-bl" style="left:1162.97px;top:1454.00px;font-size:30.40px;line-height:36px;letter-spacing:0.564px">Electric vehicles: <b>94 kg</b>/vehicle</div>
</body></html>
